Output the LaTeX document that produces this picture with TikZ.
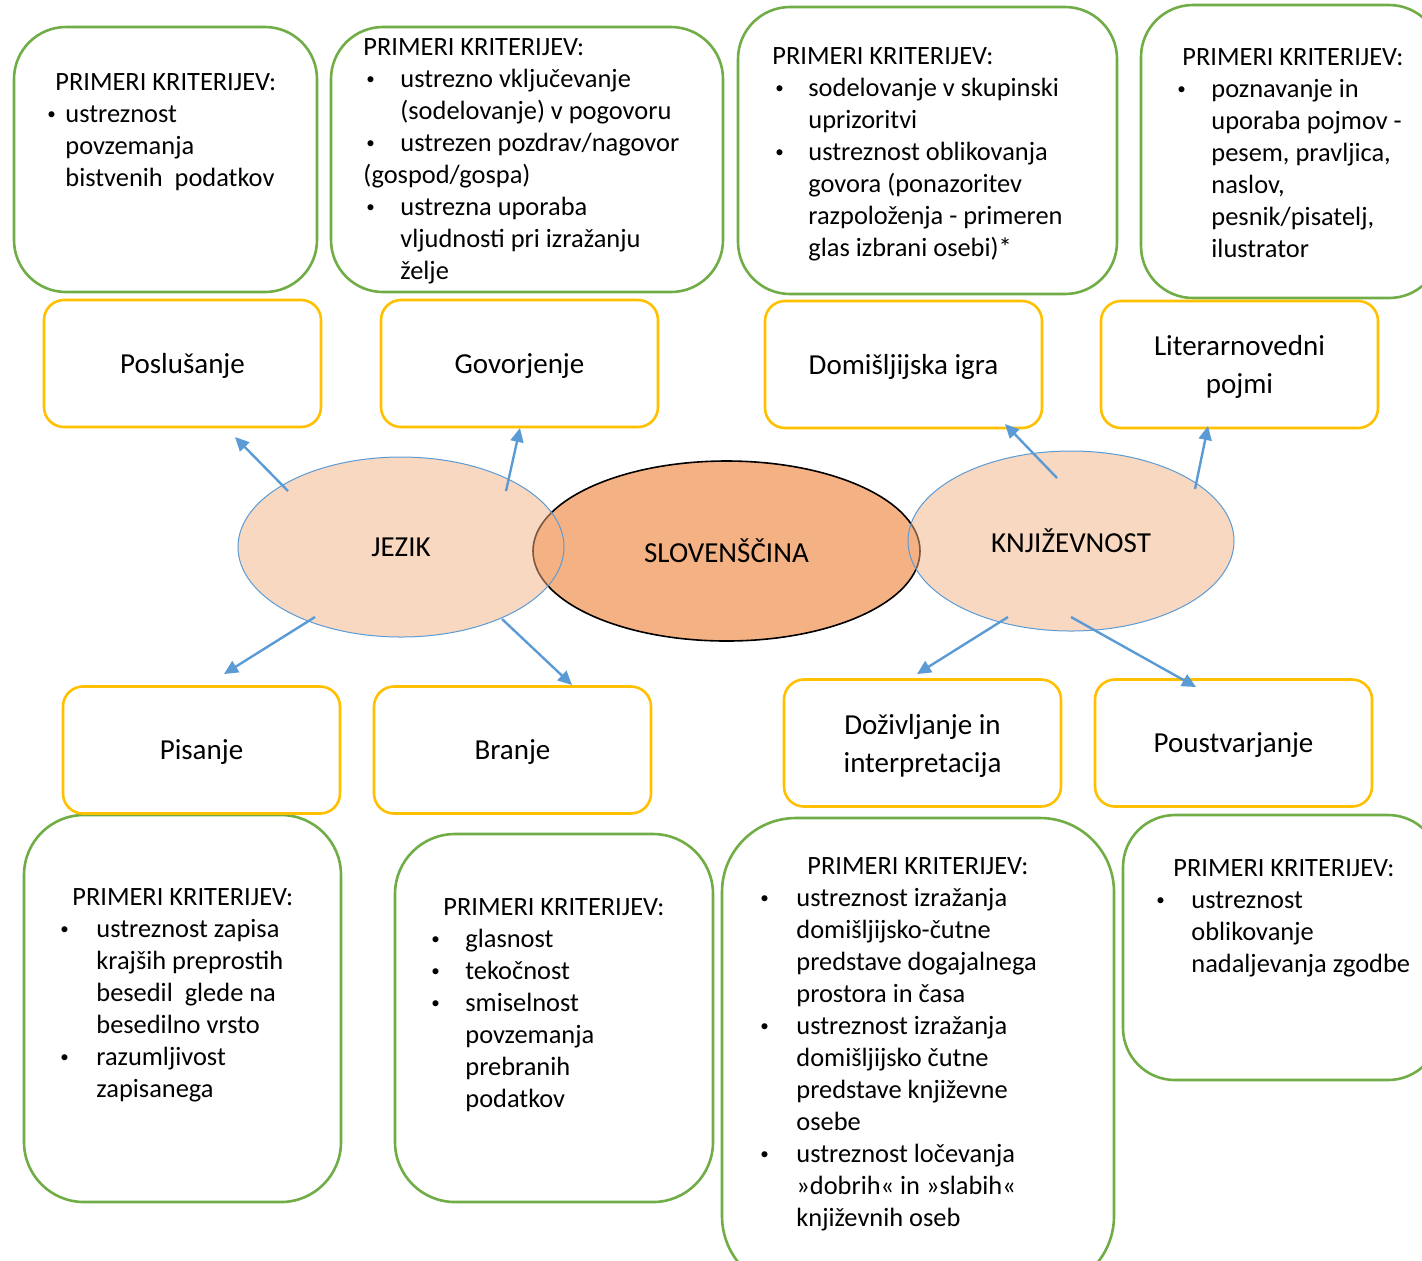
\documentclass[tikz,border=0pt]{standalone}
\usepackage{fontspec}
\setmainfont{Carlito}
\usetikzlibrary{shapes.geometric,arrows.meta}
\definecolor{grn}{HTML}{70AD47}
\definecolor{ylw}{HTML}{FFC000}
\definecolor{blu}{HTML}{5B9BD5}
\definecolor{orn}{HTML}{F4B183}
\newcommand{\smbul}{\raisebox{1.4pt}{\fontsize{8.5}{8.5}\selectfont\textbullet}}
\newcommand{\bi}[2]{\hspace*{#1}\makebox[#2][l]{\smbul}}
\newcommand{\ci}[1]{\hspace*{#1}}
\newcommand{\blk}[1]{\parbox[t]{260pt}{\raggedright\fontsize{13.2}{16}\selectfont #1}}
\tikzset{
  gbox/.style={draw=grn, line width=1.3pt, rounded corners=26pt, inner sep=0pt},
  ybox/.style={draw=ylw, line width=1.3pt, rounded corners=10pt, inner sep=0pt,
    minimum width=138.5pt, minimum height=63.5pt},
  ylab/.style={align=center, inner sep=0pt, font=\fontsize{14.5}{19}\selectfont},
  txt/.style={anchor=base west, inner sep=0pt},
  side/.style={ellipse, draw=blu, line width=0.5pt, fill=orn, fill opacity=0.5,
    text opacity=1, minimum width=163pt, minimum height=90pt,
    font=\fontsize{14.5}{17}\selectfont},
  arr/.style={draw=blu, line width=1.2pt, -{Triangle[length=7pt,width=6.5pt]}}
}
\begin{document}
\begin{tikzpicture}[x=0.5pt,y=-0.5pt]
\useasboundingbox (0,0) rectangle (1422,1260);
% green criteria boxes (top)
\node[gbox, minimum width=151.5pt, minimum height=132.5pt] (g1) at (165.5,159.5) {};
\node[gbox, minimum width=196pt, minimum height=132.5pt] (g2) at (527,159.5) {};
\node[gbox, minimum width=189.5pt, minimum height=143.5pt] (g3) at (927.5,150.5) {};
\node[gbox, minimum width=150pt, minimum height=146.5pt] (g4) at (1291,151.5) {};
% green criteria boxes (bottom)
\node[gbox, rounded corners=30pt, minimum width=158.5pt, minimum height=193.5pt] (g5) at (182.5,1008.5) {};
\node[gbox, rounded corners=30pt, minimum width=159pt, minimum height=184pt] (g6) at (554,1018) {};
\node[gbox, rounded corners=37pt, minimum width=196pt, minimum height=236pt] (g7) at (918,1054) {};
\node[gbox, minimum width=158.5pt, minimum height=132.5pt] (g8) at (1281.5,947.5) {};
% texts
\node[txt] (t1) at (47,90) {\blk{\ci{4pt}PRIMERI KRITERIJEV:\\
\bi{0pt}{9pt}ustreznost\\
\ci{9pt}povzemanja\\
\ci{9pt}bistvenih\ \ podatkov}};
\node[txt] (t2) at (363,55) {\blk{PRIMERI KRITERIJEV:\\
\bi{1.5pt}{17pt}ustrezno vključevanje\\
\ci{18.5pt}(sodelovanje) v pogovoru\\
\bi{1.5pt}{17pt}ustrezen pozdrav/nagovor\\
(gospod/gospa)\\
\bi{1.5pt}{17pt}ustrezna uporaba\\
\ci{18.5pt}vljudnosti pri izražanju\\
\ci{18.5pt}želje}};
\node[txt] (t3) at (772,64) {\blk{PRIMERI KRITERIJEV:\\
\bi{1.5pt}{16.5pt}sodelovanje v skupinski\\
\ci{18pt}uprizoritvi\\
\bi{1.5pt}{16.5pt}ustreznost oblikovanja\\
\ci{18pt}govora (ponazoritev\\
\ci{18pt}razpoloženja - primeren\\
\ci{18pt}glas izbrani osebi)*}};
\node[txt] (t4) at (1177,65) {\blk{\ci{2.5pt}PRIMERI KRITERIJEV:\\
\bi{0pt}{17pt}poznavanje in\\
\ci{17pt}uporaba pojmov -\\
\ci{17pt}pesem, pravljica,\\
\ci{17pt}naslov,\\
\ci{17pt}pesnik/pisatelj,\\
\ci{17pt}ilustrator}};
\node[txt] (t5) at (60,905) {\blk{\ci{6pt}PRIMERI KRITERIJEV:\\
\bi{0pt}{18pt}ustreznost zapisa\\
\ci{18pt}krajših preprostih\\
\ci{18pt}besedil\ \ glede na\\
\ci{18pt}besedilno vrsto\\
\bi{0pt}{18pt}razumljivost\\
\ci{18pt}zapisanega}};
\node[txt] (t6) at (431,915) {\blk{\ci{6pt}PRIMERI KRITERIJEV:\\
\bi{0pt}{17pt}glasnost\\
\bi{0pt}{17pt}tekočnost\\
\bi{0pt}{17pt}smiselnost\\
\ci{17pt}povzemanja\\
\ci{17pt}prebranih\\
\ci{17pt}podatkov}};
\node[txt] (t7) at (760,874) {\blk{\ci{23.5pt}PRIMERI KRITERIJEV:\\
\bi{0pt}{18pt}ustreznost izražanja\\
\ci{18pt}domišljijsko-čutne\\
\ci{18pt}predstave dogajalnega\\
\ci{18pt}prostora in časa\\
\bi{0pt}{18pt}ustreznost izražanja\\
\ci{18pt}domišljijsko čutne\\
\ci{18pt}predstave književne\\
\ci{18pt}osebe\\
\bi{0pt}{18pt}ustreznost ločevanja\\
\ci{18pt}»dobrih« in »slabih«\\
\ci{18pt}književnih oseb}};
\node[txt] (t8) at (1156,876) {\blk{\ci{8.5pt}PRIMERI KRITERIJEV:\\
\bi{0pt}{17.5pt}ustreznost\\
\ci{17.5pt}oblikovanje\\
\ci{17.5pt}nadaljevanja zgodbe}};
% yellow boxes
\node[ybox] (y1) at (182.5,363.5) {};
\node[ybox] (y2) at (519.5,363.5) {};
\node[ybox] (y3) at (903.5,364.5) {};
\node[ybox] (y4) at (1239.5,364.5) {};
\node[ybox] (y5) at (201.5,750) {};
\node[ybox] (y6) at (512.5,750) {};
\node[ybox] (y7) at (922.5,743) {};
\node[ybox] (y8) at (1233.5,743) {};
\node[ylab] (l1) at ([yshift=-1.2pt]y1.center) {Poslušanje};
\node[ylab] (l2) at ([yshift=-1.2pt]y2.center) {Govorjenje};
\node[ylab] (l3) at ([yshift=-1.2pt]y3.center) {Domišljijska igra};
\node[ylab] (l4) at ([yshift=-1.2pt]y4.center) {Literarnovedni\\pojmi};
\node[ylab] (l5) at ([yshift=-1.2pt]y5.center) {Pisanje};
\node[ylab] (l6) at ([yshift=-1.2pt]y6.center) {Branje};
\node[ylab] (l7) at ([yshift=-1.2pt]y7.center) {Doživljanje in\\interpretacija};
\node[ylab] (l8) at ([yshift=-1.2pt]y8.center) {Poustvarjanje};
% ellipses
\node[ellipse, draw=black, line width=0.8pt, fill=orn, minimum width=193.5pt, minimum height=90pt,
  font=\fontsize{14.5}{17}\selectfont] (slo) at (726.5,551) {SLOVENŠČINA};
\node[side] (jez) at (401,547) {JEZIK};
\node[side] (knj) at (1071,541) {KNJIŽEVNOST};
% arrow ends
\coordinate (a1s) at (288,491); \coordinate (a1e) at (235,437);
\coordinate (a2s) at (506,491); \coordinate (a2e) at (520,428);
\coordinate (a3s) at (1057,478); \coordinate (a3e) at (1005,424);
\coordinate (a4s) at (1195,489); \coordinate (a4e) at (1208,426);
\coordinate (a5s) at (315,617); \coordinate (a5e) at (224,674);
\coordinate (a6s) at (502,619); \coordinate (a6e) at (572,685);
\coordinate (a7s) at (1008,617); \coordinate (a7e) at (917,674);
\coordinate (a8s) at (1071,617); \coordinate (a8e) at (1196,687);
\draw[arr] (a1s) -- (a1e);
\draw[arr] (a2s) -- (a2e);
\draw[arr] (a3s) -- (a3e);
\draw[arr] (a4s) -- (a4e);
\draw[arr] (a5s) -- (a5e);
\draw[arr] (a6s) -- (a6e);
\draw[arr] (a7s) -- (a7e);
\draw[arr] (a8s) -- (a8e);
\end{tikzpicture}
\end{document}
